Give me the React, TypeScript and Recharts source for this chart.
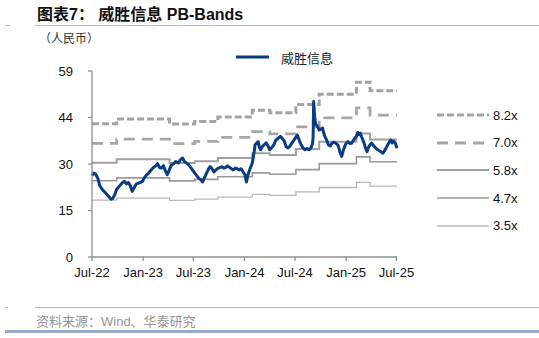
import React from "react";
import { LineChart, Line, XAxis, YAxis, Legend } from "recharts";

// 威胜信息 收盘价（人民币）
const priceDates = [
  "2022-07-01", "2022-07-07", "2022-07-14", "2022-07-22", "2022-07-29", "2022-08-09", "2022-08-19", "2022-08-30",
  "2022-09-08", "2022-09-14", "2022-09-21", "2022-09-28", "2022-10-12", "2022-10-19", "2022-10-26", "2022-11-02",
  "2022-11-09", "2022-11-16", "2022-11-23", "2022-11-30", "2022-12-08", "2022-12-15", "2022-12-23", "2022-12-30",
  "2023-01-06", "2023-01-13", "2023-01-20", "2023-01-30", "2023-02-06", "2023-02-15", "2023-02-22", "2023-03-01",
  "2023-03-08", "2023-03-15", "2023-03-22", "2023-03-29", "2023-04-06", "2023-04-13", "2023-04-21", "2023-04-28",
  "2023-05-08", "2023-05-15", "2023-05-23", "2023-05-30", "2023-06-13", "2023-06-20", "2023-06-29", "2023-07-06",
  "2023-07-13", "2023-07-20", "2023-07-27", "2023-08-03", "2023-08-10", "2023-08-17", "2023-08-24", "2023-08-30",
  "2023-09-06", "2023-09-13", "2023-09-20", "2023-09-27", "2023-10-11", "2023-10-18", "2023-10-25", "2023-11-01",
  "2023-11-08", "2023-11-15", "2023-11-22", "2023-11-29", "2023-12-06", "2023-12-13", "2023-12-20", "2023-12-27",
  "2024-01-03", "2024-01-08", "2024-01-15", "2024-01-22", "2024-01-29", "2024-02-05", "2024-02-08", "2024-02-19",
  "2024-02-23", "2024-02-28", "2024-03-05", "2024-03-12", "2024-03-19", "2024-03-26", "2024-04-01", "2024-04-09",
  "2024-04-16", "2024-04-23", "2024-04-30", "2024-05-09", "2024-05-16", "2024-05-23", "2024-05-30", "2024-06-06",
  "2024-06-13", "2024-06-20", "2024-06-27", "2024-07-04", "2024-07-09", "2024-07-16", "2024-07-23", "2024-07-30",
  "2024-08-06", "2024-08-13", "2024-08-20", "2024-08-27", "2024-09-02", "2024-09-04", "2024-09-06", "2024-09-10",
  "2024-09-13", "2024-09-19", "2024-09-26", "2024-10-08", "2024-10-15", "2024-10-22", "2024-10-29", "2024-11-05",
  "2024-11-12", "2024-11-19", "2024-11-26", "2024-12-03", "2024-12-09", "2024-12-16", "2024-12-23", "2024-12-30",
  "2025-01-07", "2025-01-14", "2025-01-21", "2025-01-27", "2025-02-07", "2025-02-12", "2025-02-17", "2025-02-21",
  "2025-02-26", "2025-03-05", "2025-03-12", "2025-03-17", "2025-03-21", "2025-03-28", "2025-04-03", "2025-04-10",
  "2025-04-18", "2025-04-25", "2025-05-06", "2025-05-13", "2025-05-20", "2025-05-27", "2025-06-04", "2025-06-10",
  "2025-06-16", "2025-06-20", "2025-06-26", "2025-07-03",
];

const priceValues = [
  25.8, 26.6, 26.3, 25.0, 22.6, 21.2, 20.3, 19.2,
  18.3, 18.6, 19.8, 21.5, 22.9, 23.6, 24.0, 23.2,
  23.6, 22.6, 20.8, 22.0, 23.2, 23.4, 23.7, 24.0,
  25.2, 26.0, 26.5, 27.6, 28.3, 28.9, 29.6, 28.4,
  28.2, 29.0, 27.4, 26.1, 27.8, 29.2, 29.6, 30.3,
  29.8, 30.8, 31.4, 30.2, 29.4, 28.6, 27.5, 26.6,
  25.8, 25.0, 24.6, 23.8, 25.2, 26.5, 27.8, 28.7,
  28.0, 27.0, 27.6, 28.1, 28.6, 28.2, 28.4, 28.9,
  28.5, 28.0, 27.6, 28.2, 28.0, 27.6, 28.0, 27.0,
  26.0, 23.8, 26.5, 28.2, 29.8, 33.5, 35.6, 36.6,
  35.0, 34.0, 35.0, 35.6, 36.2, 35.2, 34.0, 34.8,
  35.6, 37.1, 37.6, 38.3, 37.6, 36.8, 35.0, 34.6,
  35.2, 36.2, 37.1, 38.0, 38.7, 37.0, 35.6, 34.6,
  34.0, 34.4, 34.0, 34.6, 36.0, 38.0, 49.3, 44.0,
  42.2, 41.5, 40.3, 40.9, 38.5, 37.2, 35.6, 35.2,
  36.2, 36.4, 36.0, 35.4, 33.5, 31.9, 34.2, 35.8,
  36.6, 36.0, 36.1, 37.0, 38.3, 39.5, 38.8, 39.3,
  38.0, 36.5, 34.5, 33.4, 34.5, 35.6, 36.1, 35.3,
  34.5, 34.0, 33.4, 32.9, 33.8, 35.0, 36.3, 37.1,
  36.2, 36.8, 36.3, 34.5,
];

// 每股净资产（按披露日期生效）
const bpsDates = [
  "2022-07-01", "2022-09-27", "2023-04-01", "2023-07-01", "2023-09-22", "2024-01-28",
  "2024-03-29", "2024-07-03", "2024-09-25", "2025-02-01", "2025-03-23",
];
const bpsValues = [5.15, 5.34, 5.14, 5.24, 5.42, 5.68, 5.58, 5.9, 6.3, 6.76, 6.43];

const bandMultiples = [8.2, 7.0, 5.8, 4.7, 3.5];
const bandLabels = ["8.2x", "7.0x", "5.8x", "4.7x", "3.5x"];
const bandColors = ["#a3a3a3", "#a6a6a6", "#a0a0a0", "#9a9a9a", "#b8b8b8"];
const bandWidths = [3, 2.8, 2, 1.6, 1.3];
const bandDashes = ["7 3", "11 7", undefined, undefined, undefined];

const seriesName = "威胜信息";
const yTicks = [0, 14.75, 29.5, 44.25, 59];
const xTickDates = ["2022-07-01", "2023-01-01", "2023-07-01", "2024-01-01", "2024-07-01", "2025-01-01", "2025-07-01"];
const xTickLabels = ["Jul-22", "Jan-23", "Jul-23", "Jan-24", "Jul-24", "Jan-25", "Jul-25"];

const toTime = (d: string) => Date.parse(d + "T00:00:00Z");

const bpsAt = (d: string) => {
  let v = bpsValues[0];
  bpsDates.forEach((s, i) => {
    if (s <= d) v = bpsValues[i];
  });
  return v;
};

const data = priceDates.map((d, i) => {
  const row: Record<string, number> = { t: toTime(d), price: priceValues[i] };
  bandMultiples.forEach((m, k) => {
    row["b" + k] = +(m * bpsAt(d)).toFixed(2);
  });
  return row;
});

const xTicks = xTickDates.map(toTime);
const tickLabelOf = (v: number) => {
  const i = xTicks.indexOf(v);
  return i >= 0 ? xTickLabels[i] : "";
};

const latin = '"Liberation Sans", Arial, "Noto Sans CJK SC", sans-serif';
const axisGray = "#8f8f8f";

const renderLegend = (props: any) => {
  const items: any[] = props.payload || [];
  const main = items.find((p) => p.dataKey === "price");
  const bands = bandLabels
    .map((l) => items.find((p) => p.value === l))
    .filter(Boolean);
  return (
    <div style={{ position: "relative", width: 539, height: 338, pointerEvents: "none" }}>
      {main && (
        <div style={{ position: "absolute", left: 236, top: 48, height: 18, display: "flex", alignItems: "center" }}>
          <svg width={33} height={6}>
            <line x1={0} y1={3} x2={33} y2={3} stroke={main.color} strokeWidth={3} />
          </svg>
          <span style={{ marginLeft: 12, fontSize: 13, color: "#222", fontFamily: '"Noto Sans CJK SC", sans-serif' }}>
            {main.value}
          </span>
        </div>
      )}
      {bands.map((b: any, i: number) => {
        const k = bandLabels.indexOf(b.value);
        return (
          <div
            key={b.value}
            style={{ position: "absolute", left: 437, top: 106 + i * 27.7, height: 18, display: "flex", alignItems: "center" }}
          >
            <svg width={52} height={6}>
              <line
                x1={0}
                y1={3}
                x2={52}
                y2={3}
                stroke={bandColors[k]}
                strokeWidth={bandWidths[k]}
                strokeDasharray={bandDashes[k]}
              />
            </svg>
            <span style={{ marginLeft: 4, fontSize: 13, color: "#111", fontFamily: latin }}>{b.value}</span>
          </div>
        );
      })}
    </div>
  );
};

export default function App() {
  return (
    <div
      style={{
        position: "absolute",
        left: 0,
        top: 0,
        width: 539,
        height: 338,
        background: "#fff",
        overflow: "hidden",
        fontFamily: latin,
      }}
    >
      <div
        style={{
          position: "absolute",
          left: 37,
          top: 5,
          fontSize: 16,
          fontWeight: 700,
          color: "#111",
          whiteSpace: "pre",
          lineHeight: "20px",
          fontFamily: '"Liberation Sans", Arial, "Noto Sans CJK SC", sans-serif',
        }}
      >
        {"图表7： 威胜信息 PB-Bands"}
      </div>
      <div style={{ position: "absolute", left: 5, top: 25, width: 5, height: 1, background: "#a9bcd4" }} />
      <div style={{ position: "absolute", left: 35, top: 25, width: 504, height: 1, background: "#a9bcd4" }} />
      <div
        style={{
          position: "absolute",
          left: 39,
          top: 30,
          fontSize: 12,
          color: "#333",
          lineHeight: "16px",
          fontFamily: '"Noto Sans CJK SC", sans-serif',
        }}
      >
        （人民币）
      </div>

      <div style={{ position: "absolute", left: 0, top: 0 }}>
        <LineChart width={539} height={338} data={data} margin={{ top: 71, right: 142, bottom: 51, left: 32 }}>
          <XAxis
            dataKey="t"
            type="number"
            domain={["dataMin", "dataMax"]}
            ticks={xTicks}
            tickFormatter={tickLabelOf}
            height={30}
            tickSize={4}
            tickMargin={7}
            interval={0}
            stroke={axisGray}
            strokeWidth={1.3}
            tick={{ fontSize: 13, fill: "#111", fontFamily: latin }}
          />
          <YAxis
            type="number"
            domain={[0, 59]}
            ticks={yTicks}
            tickFormatter={(v) => String(Math.round(v))}
            width={60}
            tickSize={4}
            tickMargin={15}
            interval={0}
            stroke={axisGray}
            strokeWidth={1.3}
            tick={{ fontSize: 13, fill: "#111", fontFamily: latin }}
          />
          <Legend
            layout="horizontal"
            verticalAlign="middle"
            align="center"
            content={renderLegend}
            wrapperStyle={{ left: 0, top: 0, width: 539, height: 338 }}
          />
          {bandMultiples.map((m, k) => (
            <Line
              key={bandLabels[k]}
              type="stepAfter"
              dataKey={"b" + k}
              name={bandLabels[k]}
              stroke={bandColors[k]}
              strokeWidth={bandWidths[k]}
              strokeDasharray={bandDashes[k]}
              dot={false}
              activeDot={false}
              isAnimationActive={false}
            />
          ))}
          <Line
            type="linear"
            dataKey="price"
            name={seriesName}
            stroke="#0b3b82"
            strokeWidth={3}
            strokeLinejoin="round"
            dot={false}
            activeDot={false}
            isAnimationActive={false}
          />
        </LineChart>
      </div>

      <div style={{ position: "absolute", left: 5, top: 307, width: 3, height: 1, background: "#a7bad3" }} />
      <div style={{ position: "absolute", left: 35, top: 307, width: 504, height: 1, background: "#a7bad3" }} />
      <div
        style={{
          position: "absolute",
          left: 36,
          top: 313,
          fontSize: 13,
          lineHeight: "17px",
          color: "#959595",
          fontFamily: '"Liberation Sans", Arial, "Noto Sans CJK SC", sans-serif',
        }}
      >
        资料来源：Wind、华泰研究
      </div>
      <div style={{ position: "absolute", left: 5, top: 330, width: 534, height: 3, background: "#97adc8" }} />
    </div>
  );
}
